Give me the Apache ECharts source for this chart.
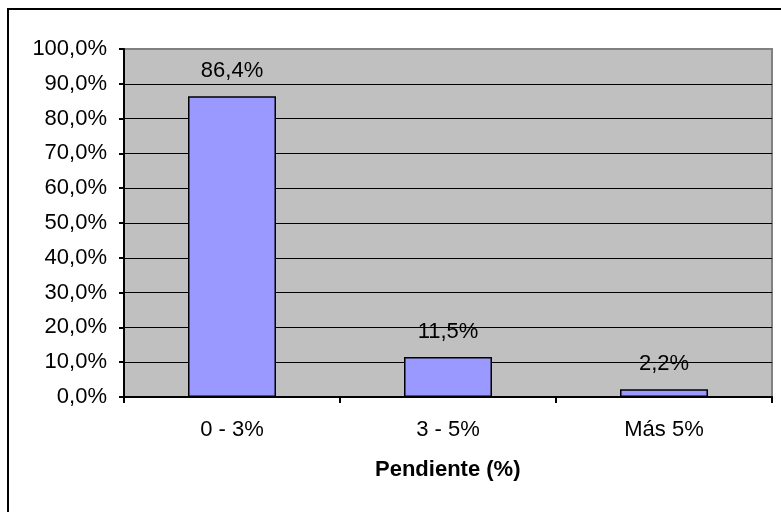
<!DOCTYPE html>
<html>
<head>
<meta charset="utf-8">
<script src="https://cdn.jsdelivr.net/npm/echarts@6/dist/echarts.min.js"></script>
<style>
  html, body { margin: 0; padding: 0; background: #ffffff; }
  #chart { width: 781px; height: 512px; }
</style>
</head>
<body>
<div id="chart"></div>
<script>
// Distribución de la pendiente por rangos
const categories = ['0 - 3%', '3 - 5%', 'Más 5%'];
const shares = [86.4, 11.5, 2.2];
const axisTitle = 'Pendiente (%)';
const yTicks = { min: 0, max: 100, step: 10 };

const FONT = '"Liberation Sans", Arial, sans-serif';
const pct = v => Number(v).toFixed(1).replace('.', ',') + '%';

const chart = echarts.init(document.getElementById('chart'), null, { renderer: 'canvas' });

chart.setOption({
  animation: false,
  backgroundColor: '#ffffff',
  textStyle: { fontFamily: FONT },
  grid: {
    left: 124, top: 49, right: 9, bottom: 115,
    show: true,
    backgroundColor: '#c0c0c0',
    borderColor: '#808080',
    borderWidth: 2
  },
  xAxis: {
    type: 'category',
    data: categories,
    boundaryGap: true,
    axisLine: { show: true, lineStyle: { color: '#000', width: 2 } },
    axisTick: { show: true, inside: false, length: 6, interval: 0, alignWithLabel: false,
                lineStyle: { color: '#000', width: 2 } },
    axisLabel: { color: '#000', fontSize: 22, fontFamily: FONT, margin: 22, interval: 0 },
    splitLine: { show: false }
  },
  yAxis: {
    type: 'value',
    min: yTicks.min,
    max: yTicks.max,
    interval: yTicks.step,
    axisLine: { show: true, lineStyle: { color: '#000', width: 2 } },
    axisTick: { show: true, inside: false, length: 5, lineStyle: { color: '#000', width: 2 } },
    axisLabel: { color: '#000', fontSize: 22, fontFamily: FONT, margin: 17, formatter: pct },
    splitLine: { show: true, showMaxLine: false, lineStyle: { color: '#000', width: 1 } }
  },
  series: [{
    type: 'bar',
    data: shares,
    barWidth: 88,
    itemStyle: { color: '#9999ff', borderColor: '#000', borderWidth: 1.5 },
    label: {
      show: true,
      position: 'top',
      distance: 14,
      color: '#000',
      fontSize: 22,
      fontFamily: FONT,
      formatter: p => pct(p.value)
    }
  }],
  graphic: [
    {
      type: 'rect',
      shape: { x: 8, y: 9, width: 900, height: 700 },
      style: { fill: 'none', stroke: '#000', lineWidth: 2 },
      silent: true
    },
    {
      type: 'text',
      left: 448 - 73,
      top: 459,
      style: {
        text: axisTitle,
        fill: '#000',
        font: 'bold 22px ' + FONT
      }
    }
  ]
});
</script>
</body>
</html>
